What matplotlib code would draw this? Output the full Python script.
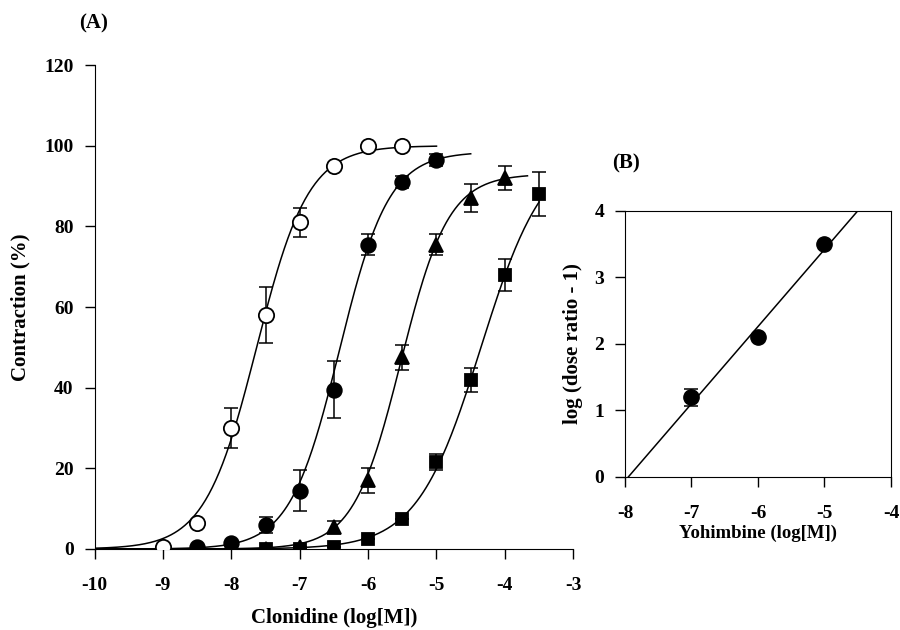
import numpy as np
import matplotlib
matplotlib.use("Agg")
import matplotlib.pyplot as plt

plt.rcParams["font.family"] = ["Liberation Serif", "DejaVu Serif"]
plt.rcParams["font.weight"] = "bold"
plt.rcParams["axes.unicode_minus"] = False

# Panel A: clonidine concentration-response curves
x_ctrl = [-9, -8.5, -8, -7.5, -7, -6.5, -6, -5.5]
y_ctrl = [0.5, 6.5, 30, 58, 81, 95, 100, 100]
e_ctrl = [0, 0, 5, 7, 3.5, 0, 0, 0]

x_y7 = [-8.5, -8, -7.5, -7, -6.5, -6, -5.5, -5]
y_y7 = [0.5, 1.5, 6, 14.5, 39.5, 75.5, 91, 96.5]
e_y7 = [0, 0, 2, 5, 7, 2.5, 1.5, 1.5]

x_y6 = [-7.5, -7, -6.5, -6, -5.5, -5, -4.5, -4]
y_y6 = [0, 0.5, 5.5, 17, 47.5, 75.5, 87, 92]
e_y6 = [0, 0, 1.5, 3, 3, 2.5, 3.5, 3]

x_y5 = [-7.5, -7, -6.5, -6, -5.5, -5, -4.5, -4, -3.5]
y_y5 = [0, 0, 0.5, 2.5, 7.5, 21.5, 42, 68, 88]
e_y5 = [0, 0, 0, 0, 0, 2, 3, 4, 5.5]

# fitted Hill parameters: top, logEC50, slope, curve end
fit_top = [100, 98.5, 93, 100]
fit_ec50 = [-7.63, -6.42, -5.52, -4.35]
fit_hill = [1.15, 1.2, 1.25, 0.93]
fit_end = [-5.0, -4.5, -3.67, -3.5]

# Panel B: Schild plot
x_schild = [-7, -6, -5]
y_schild = [1.2, 2.1, 3.5]
e_schild = [0.13, 0, 0]
schild_slope = 1.16
schild_x0 = -7.95
schild_x1 = -4.5


def hill(x, top, ec50, h):
    return top / (1 + 10 ** ((ec50 - x) * h))


fig = plt.figure(figsize=(9, 6.3), dpi=100)

# ---- panel A
ax = fig.add_axes([0.105, 0.1286, 0.532, 0.768])
for top, ec50, h, xe in zip(fit_top, fit_ec50, fit_hill, fit_end):
    xs = np.linspace(-10, xe, 300)
    ax.plot(xs, hill(xs, top, ec50, h), color="black", lw=1.1, zorder=2)

series = [
    (x_ctrl, y_ctrl, e_ctrl, "o", "white", 11),
    (x_y7, y_y7, e_y7, "o", "black", 10.5),
    (x_y6, y_y6, e_y6, "^", "black", 10.5),
    (x_y5, y_y5, e_y5, "s", "black", 8.5),
]
for xs, ys, es, m, fc, ms in series:
    ax.errorbar(xs, ys, yerr=es, fmt="none", ecolor="black", elinewidth=1.1,
                capsize=5, capthick=1.1, zorder=3)
    ax.plot(xs, ys, m, mfc=fc, mec="black", mew=1.3, ms=ms, ls="none", zorder=4)

ax.set_xlim(-10, -3)
ax.set_ylim(0, 120)
ax.set_xticks(range(-10, -2))
ax.set_yticks(range(0, 121, 20))
ax.spines["top"].set_visible(False)
ax.spines["right"].set_visible(False)
ax.tick_params(direction="out", length=7, width=1, labelsize=14)
ax.tick_params(axis="x", pad=13)
ax.tick_params(axis="y", pad=8)
ax.set_xlabel("Clonidine (log[M])", fontsize=15, fontweight="bold", labelpad=10)
ax.set_ylabel("Contraction (%)", fontsize=15, fontweight="bold", labelpad=10)
fig.text(0.104, 0.962, "(A)", fontsize=15, fontweight="bold", ha="center", va="center")

# ---- panel B
bx = fig.add_axes([0.6944, 0.2429, 0.2956, 0.4222])
xl = np.array([schild_x0, schild_x1])
bx.plot(xl, schild_slope * (xl - schild_x0), color="black", lw=1.1, zorder=2)
bx.errorbar(x_schild, y_schild, yerr=e_schild, fmt="none", ecolor="black",
            elinewidth=1.1, capsize=5, capthick=1.1, zorder=3)
bx.plot(x_schild, y_schild, "o", color="black", ms=11, zorder=4)
bx.set_xlim(-8, -4)
bx.set_ylim(0, 4)
bx.set_xticks(range(-8, -3))
bx.set_yticks(range(0, 5))
bx.tick_params(direction="out", length=7, width=1, labelsize=14)
bx.tick_params(axis="x", pad=13)
bx.tick_params(axis="y", pad=8)
bx.set_xlabel("Yohimbine (log[M])", fontsize=13.5, fontweight="bold", labelpad=2)
bx.set_ylabel("log (dose ratio - 1)", fontsize=15, fontweight="bold", labelpad=8)
fig.text(0.696, 0.74, "(B)", fontsize=15, fontweight="bold", ha="center", va="center")

fig.savefig("out.png", dpi=100)
